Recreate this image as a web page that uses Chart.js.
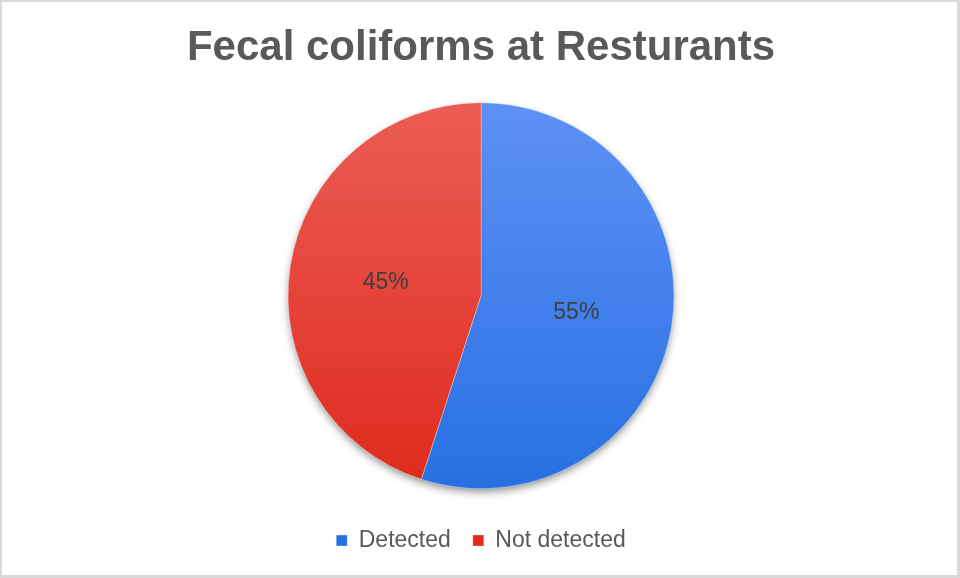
<!DOCTYPE html>
<html>
<head>
<meta charset="utf-8">
<script src="https://cdn.jsdelivr.net/npm/chart.js@4.4.1/dist/chart.umd.min.js"></script>
<style>
  html, body { margin: 0; padding: 0; background: #fff; }
  #wrap {
    width: 960px; height: 578px; box-sizing: border-box;
    border-left: 2px solid #d9d9d9; border-top: 2px solid #d9d9d9;
    border-right: 3px solid #d9d9d9; border-bottom: 3px solid #d9d9d9;
    position: relative;
  }
</style>
</head>
<body>
<div id="wrap"><canvas id="chart"></canvas></div>
<script>
const categories = ["Detected", "Not detected"];
const shares = [55, 45];
const titleText = "Fecal coliforms at Resturants";

// top/bottom colours of each slice gradient
const topColors = ["#5e91f6", "#eb5d55"];
const bottomColors = ["#2770e2", "#df2a1d"];
const pieRadius = 193;

function sliceFill(context) {
  const chart = context.chart;
  const area = chart.chartArea;
  const i = context.dataIndex;
  if (!area) return bottomColors[i];
  const cy = (area.top + area.bottom) / 2;
  const g = chart.ctx.createLinearGradient(0, cy - pieRadius, 0, cy + pieRadius);
  g.addColorStop(0, topColors[i]);
  g.addColorStop(1, bottomColors[i]);
  return g;
}

// soft shadow under the whole pie
const pieShadow = {
  id: "pieShadow",
  beforeDatasetsDraw(chart) {
    const arc = chart.getDatasetMeta(0).data[0];
    if (!arc) return;
    const ctx = chart.ctx;
    ctx.save();
    ctx.shadowColor = "rgba(0,0,0,0.45)";
    ctx.shadowBlur = 9;
    ctx.shadowOffsetY = 4;
    ctx.fillStyle = "#ffffff";
    ctx.beginPath();
    ctx.arc(arc.x, arc.y, arc.outerRadius - 1, 0, Math.PI * 2);
    ctx.fill();
    ctx.restore();
  }
};

// percentage labels inside each slice
const sliceLabels = {
  id: "sliceLabels",
  afterDatasetsDraw(chart) {
    const ctx = chart.ctx;
    const data = chart.data.datasets[0].data;
    const total = data.reduce((a, b) => a + b, 0);
    ctx.save();
    ctx.font = "23px 'Liberation Sans', Arial, sans-serif";
    ctx.fillStyle = "#404040";
    ctx.textAlign = "center";
    ctx.textBaseline = "middle";
    chart.getDatasetMeta(0).data.forEach((arc, i) => {
      const p = arc.tooltipPosition();
      ctx.fillText(Math.round(data[i] / total * 100) + "%", p.x, p.y + 2);
    });
    ctx.restore();
  }
};

new Chart(document.getElementById("chart"), {
  type: "pie",
  data: {
    labels: categories,
    datasets: [{
      data: shares,
      backgroundColor: sliceFill,
      borderColor: "rgba(255,255,255,0.6)",
      borderWidth: 0.5,
      radius: pieRadius
    }]
  },
  options: {
    responsive: true,
    maintainAspectRatio: false,
    animation: false,
    rotation: 0,
    layout: { padding: { top: 21, bottom: 13, left: 3, right: 0 } },
    plugins: {
      title: {
        display: true,
        text: titleText,
        color: "#595959",
        font: { family: "'Liberation Sans', Arial, sans-serif", size: 42, weight: "bold" },
        padding: { top: 0, bottom: 11 }
      },
      legend: {
        position: "bottom",
        labels: {
          color: "#595959",
          font: { family: "'Liberation Sans', Arial, sans-serif", size: 23 },
          boxWidth: 11,
          boxHeight: 11,
          padding: 22
        }
      },
      tooltip: { enabled: false }
    }
  },
  plugins: [pieShadow, sliceLabels]
});
</script>
</body>
</html>
